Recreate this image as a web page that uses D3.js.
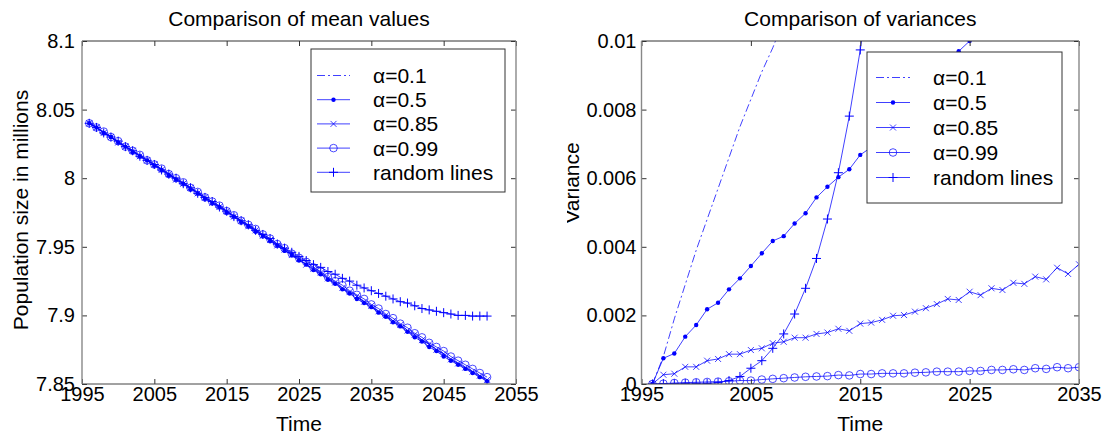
<!DOCTYPE html>
<html>
<head>
<meta charset="utf-8">
<script src="https://cdn.jsdelivr.net/npm/d3@7"></script>
<style>
body { margin: 0; background: #fff; }
svg { display: block; font-family: Arial, "Liberation Sans", sans-serif; }
</style>
</head>
<body>
<svg width="1102" height="434"></svg>
<script>
// ---- data ----
const meanYears = d3.range(1996, 2052);
const varYears = d3.range(1996, 2036);

const meanA01 = [8.040, 8.037, 8.033, 8.030, 8.026, 8.023, 8.020, 8.016, 8.013, 8.010,
  8.006, 8.003, 7.999, 7.996, 7.993, 7.989, 7.986, 7.982, 7.979, 7.976,
  7.972, 7.969, 7.965, 7.962, 7.958, 7.955, 7.951, 7.948, 7.944, 7.941,
  7.937, 7.934, 7.930, 7.927, 7.923, 7.920, 7.916, 7.913, 7.910, 7.906,
  7.903, 7.899, 7.896, 7.892, 7.889, 7.885, 7.882, 7.879, 7.875, 7.872,
  7.868, 7.865, 7.862, 7.859, 7.856, 7.853];
const meanA05 = [8.040, 8.037, 8.033, 8.030, 8.026, 8.023, 8.019, 8.016, 8.013, 8.009,
  8.006, 8.002, 7.999, 7.996, 7.992, 7.989, 7.985, 7.982, 7.979, 7.975,
  7.972, 7.968, 7.965, 7.961, 7.958, 7.954, 7.951, 7.947, 7.944, 7.940,
  7.937, 7.933, 7.930, 7.926, 7.923, 7.919, 7.916, 7.912, 7.909, 7.906,
  7.902, 7.899, 7.895, 7.892, 7.888, 7.884, 7.881, 7.877, 7.874, 7.870,
  7.867, 7.864, 7.861, 7.858, 7.855, 7.852];
const meanA085 = [8.040, 8.037, 8.033, 8.030, 8.026, 8.023, 8.020, 8.016, 8.013, 8.010,
  8.006, 8.003, 7.999, 7.996, 7.993, 7.989, 7.986, 7.982, 7.979, 7.976,
  7.972, 7.969, 7.965, 7.962, 7.958, 7.955, 7.951, 7.948, 7.944, 7.941,
  7.937, 7.934, 7.931, 7.927, 7.924, 7.920, 7.917, 7.914, 7.910, 7.907,
  7.903, 7.900, 7.896, 7.893, 7.889, 7.886, 7.882, 7.879, 7.875, 7.872,
  7.868, 7.865, 7.862, 7.859, 7.856, 7.853];
const meanA099 = [8.040, 8.037, 8.034, 8.030, 8.027, 8.023, 8.020, 8.017, 8.013, 8.010,
  8.007, 8.003, 8.000, 7.997, 7.993, 7.990, 7.986, 7.983, 7.980, 7.976,
  7.973, 7.969, 7.966, 7.963, 7.959, 7.956, 7.952, 7.949, 7.945, 7.942,
  7.939, 7.935, 7.932, 7.928, 7.925, 7.922, 7.918, 7.915, 7.912, 7.908,
  7.905, 7.901, 7.898, 7.894, 7.891, 7.887, 7.884, 7.880, 7.877, 7.874,
  7.870, 7.867, 7.864, 7.861, 7.858, 7.855];
const meanRandom = [8.040, 8.037, 8.033, 8.030, 8.027, 8.023, 8.020, 8.016, 8.013, 8.010,
  8.006, 8.003, 8.000, 7.996, 7.993, 7.989, 7.986, 7.983, 7.979, 7.976,
  7.972, 7.969, 7.966, 7.962, 7.959, 7.956, 7.952, 7.949, 7.946, 7.943,
  7.940, 7.937, 7.935, 7.932, 7.930, 7.927, 7.925, 7.922, 7.920, 7.918,
  7.916, 7.914, 7.912, 7.910, 7.909, 7.907, 7.905, 7.904, 7.903, 7.902,
  7.901, 7.900, 7.900, 7.8995, 7.8995, 7.8995];

const varA01 = [0, 0.0008, 0.0019, 0.0029, 0.0039, 0.0048, 0.0057, 0.0066, 0.0075, 0.0083,
  0.0091, 0.0098, 0.0106, 0.0114];
const varA05 = [0, 0.00075, 0.00089, 0.00138, 0.00172, 0.00218, 0.00237, 0.00276, 0.00308, 0.00344,
  0.00381, 0.00417, 0.00431, 0.00468, 0.00498, 0.00544, 0.00575, 0.00603, 0.00626, 0.00668,
  0.0069, 0.0072, 0.0076, 0.0080, 0.0083, 0.0087, 0.0090, 0.0094, 0.0097, 0.0100, 0.0104];
const varA085 = [0, 0.00027, 0.00030, 0.00050, 0.00050, 0.00068, 0.00073, 0.00087, 0.00087, 0.00099,
  0.00104, 0.00119, 0.00123, 0.00135, 0.00135, 0.00146, 0.00150, 0.00161, 0.00155, 0.00176,
  0.00179, 0.00187, 0.00199, 0.00201, 0.00211, 0.00221, 0.00233, 0.00248, 0.00245, 0.00269,
  0.00259, 0.00279, 0.00274, 0.00295, 0.00292, 0.00313, 0.00305, 0.00339, 0.00321, 0.00349];
const varA099 = [0, 0.00001, 0.00003, 0.00004, 0.00005, 0.00006, 0.00007, 0.00008, 0.00010, 0.00010,
  0.00013, 0.00015, 0.00017, 0.00019, 0.00021, 0.00022, 0.00023, 0.00026, 0.00025, 0.00029,
  0.00029, 0.00031, 0.00031, 0.00031, 0.00033, 0.00034, 0.00036, 0.00036, 0.00036, 0.00038,
  0.00038, 0.00041, 0.00041, 0.00043, 0.00041, 0.00046, 0.00044, 0.00049, 0.00046, 0.00049];
const varRandom = [0, 0.00001, 0.00001, 0.00002, 0.00002, 0.00002, 0.00004, 0.00010, 0.00022, 0.00046,
  0.00068, 0.00104, 0.00146, 0.00204, 0.00279, 0.00366, 0.00481, 0.00616, 0.00781, 0.00974,
  0.0119];

const legendNames = ['α=0.1', 'α=0.5', 'α=0.85', 'α=0.99', 'random lines'];
const markers = ['none', 'dot', 'x', 'o', '+'];
const dashes = ['8,3,2,3', null, null, null, null];

const meanXTicks = [1995, 2005, 2015, 2025, 2035, 2045, 2055];
const meanYTicks = [7.85, 7.9, 7.95, 8, 8.05, 8.1];
const varXTicks = [1995, 2005, 2015, 2025, 2035];
const varYTicks = [0, 0.002, 0.004, 0.006, 0.008, 0.01];

const blue = '#0000ff';
const svg = d3.select('svg');

function drawMarker(g, type, x, y) {
  if (type === 'dot') {
    g.append('circle').attr('cx', x).attr('cy', y).attr('r', 2.2).attr('fill', blue);
  } else if (type === 'x') {
    g.append('path').attr('d', `M${x - 3},${y - 3}L${x + 3},${y + 3}M${x - 3},${y + 3}L${x + 3},${y - 3}`)
      .attr('stroke', blue).attr('stroke-opacity', 0.75);
  } else if (type === 'o') {
    g.append('circle').attr('cx', x).attr('cy', y).attr('r', 3.8)
      .attr('fill', 'none').attr('stroke', blue).attr('stroke-opacity', 0.7);
  } else if (type === '+') {
    g.append('path').attr('d', `M${x - 4.5},${y}H${x + 4.5}M${x},${y - 4.5}V${y + 4.5}`)
      .attr('stroke', blue);
  }
}

function drawPanel(p) {
  const x = d3.scaleLinear().domain(p.xDomain).range([p.left, p.right]);
  const y = d3.scaleLinear().domain(p.yDomain).range([p.bottom, p.top]);
  const g = svg.append('g');

  const clipId = 'clip' + p.id;
  g.append('clipPath').attr('id', clipId)
    .append('rect')
    .attr('x', p.left).attr('y', p.top)
    .attr('width', p.right - p.left).attr('height', p.bottom - p.top);

  // lines + markers
  const plot = g.append('g').attr('clip-path', `url(#${clipId})`);
  p.series.forEach((s, i) => {
    const pts = s.map((v, k) => [p.years[k], v]);
    plot.append('path')
      .datum(pts)
      .attr('fill', 'none')
      .attr('stroke', blue)
      .attr('stroke-opacity', 0.75)
      .attr('stroke-width', 1)
      .attr('stroke-dasharray', dashes[i])
      .attr('d', d3.line().x(d => x(d[0])).y(d => y(d[1])));
    if (markers[i] !== 'none') {
      const mg = plot.append('g');
      pts.forEach(d => drawMarker(mg, markers[i], x(d[0]), y(d[1])));
    }
  });

  // axes, ticks inside on all four sides
  const fmt = d3.format('~g');
  const xb = g.append('g').attr('transform', `translate(0,${p.bottom})`)
    .call(d3.axisBottom(x).tickValues(p.xTicks).tickSize(-5).tickPadding(3).tickFormat(fmt));
  const xt = g.append('g').attr('transform', `translate(0,${p.top})`)
    .call(d3.axisTop(x).tickValues(p.xTicks).tickSize(-5).tickFormat(''));
  const yl = g.append('g').attr('transform', `translate(${p.left},0)`)
    .call(d3.axisLeft(y).tickValues(p.yTicks).tickSize(-5).tickPadding(p.yPad).tickFormat(fmt));
  const yr = g.append('g').attr('transform', `translate(${p.right},0)`)
    .call(d3.axisRight(y).tickValues(p.yTicks).tickSize(-5).tickFormat(''));
  [xb, xt, yl, yr].forEach(a => {
    a.select('.domain').remove();
    a.selectAll('line').attr('stroke', '#333');
    a.selectAll('text').attr('font-size', 20).attr('fill', '#000')
      .attr('font-family', 'Arial, "Liberation Sans", sans-serif');
  });

  // box
  g.append('line').attr('x1', p.left).attr('x2', p.right).attr('y1', p.top).attr('y2', p.top).attr('stroke', '#333');
  g.append('line').attr('x1', p.left).attr('x2', p.right).attr('y1', p.bottom).attr('y2', p.bottom).attr('stroke', '#444');
  g.append('line').attr('x1', p.left).attr('x2', p.left).attr('y1', p.top).attr('y2', p.bottom).attr('stroke', '#888').attr('stroke-width', 1.4);
  g.append('line').attr('x1', p.right).attr('x2', p.right).attr('y1', p.top).attr('y2', p.bottom).attr('stroke', '#888').attr('stroke-width', 1.4);

  // title and labels
  g.append('text').text(p.title)
    .attr('x', (p.left + p.right) / 2).attr('y', 26)
    .attr('text-anchor', 'middle').attr('font-size', 21);
  g.append('text').text('Time')
    .attr('x', (p.left + p.right) / 2).attr('y', 431)
    .attr('text-anchor', 'middle').attr('font-size', 21);
  const ylab = g.append('g');
  if (p.yLabelClip) {
    g.append('clipPath').attr('id', clipId + 'y')
      .append('rect').attr('x', p.yLabelClip).attr('y', 0).attr('width', 100).attr('height', 434);
    ylab.attr('clip-path', `url(#${clipId}y)`);
  }
  ylab.append('text').text(p.yLabel)
    .attr('transform', `translate(${p.yLabelX},${p.yLabelY}) rotate(-90)`)
    .attr('text-anchor', 'middle').attr('font-size', 21);

  // legend
  const L = p.legend;
  const lg = g.append('g').attr('transform', `translate(${L.x},${L.y})`);
  lg.append('rect').attr('width', L.w).attr('height', L.h)
    .attr('fill', '#fff').attr('stroke', '#333');
  legendNames.forEach((name, i) => {
    const by = L.first + i * L.gap;
    const ly = by - 7.5;
    lg.append('line')
      .attr('x1', L.lx0).attr('x2', L.lx1).attr('y1', ly).attr('y2', ly)
      .attr('stroke', blue).attr('stroke-opacity', 0.75)
      .attr('stroke-dasharray', dashes[i]);
    drawMarker(lg, markers[i], (L.lx0 + L.lx1) / 2, ly);
    lg.append('text').text(name)
      .attr('x', L.tx).attr('y', by)
      .attr('font-size', 21);
  });
}

drawPanel({
  id: 'mean', left: 82, right: 516, top: 41, bottom: 384,
  xDomain: [1995, 2055], yDomain: [7.85, 8.1],
  xTicks: meanXTicks, yTicks: meanYTicks, yPad: 7,
  years: meanYears,
  series: [meanA01, meanA05, meanA085, meanA099, meanRandom],
  title: 'Comparison of mean values',
  yLabel: 'Population size in millions', yLabelX: 28, yLabelY: 210,
  legend: { x: 311, y: 49, w: 194, h: 143, first: 34, gap: 24.2, lx0: 6, lx1: 39, tx: 62 }
});

drawPanel({
  id: 'var', left: 641.5, right: 1079, top: 41, bottom: 384,
  xDomain: [1995, 2035], yDomain: [0, 0.01],
  xTicks: varXTicks, yTicks: varYTicks, yPad: 5,
  years: varYears,
  series: [varA01, varA05, varA085, varA099, varRandom],
  title: 'Comparison of variances',
  yLabel: 'Variance', yLabelX: 579, yLabelY: 183, yLabelClip: 567,
  legend: { x: 867, y: 52, w: 195, h: 151, first: 33, gap: 25, lx0: 9, lx1: 43, tx: 66 }
});
</script>
</body>
</html>
